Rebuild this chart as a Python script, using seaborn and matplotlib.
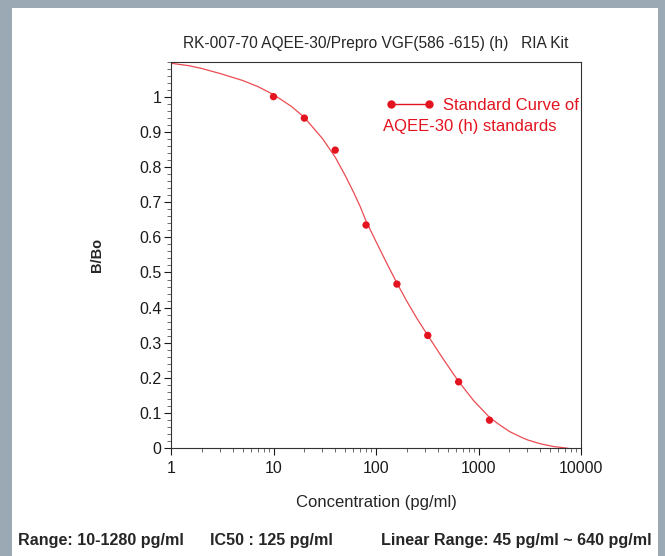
import numpy as np
import pandas as pd
import matplotlib
matplotlib.use("Agg")
import matplotlib.pyplot as plt
from matplotlib.lines import Line2D
from matplotlib.patches import Rectangle
from matplotlib.ticker import LogLocator, MultipleLocator, FixedLocator, FixedFormatter
import seaborn as sns

# standards (pg/ml) and B/Bo
conc = [10, 20, 40, 80, 160, 320, 640, 1280]
bbo = [1.0, 0.939, 0.848, 0.635, 0.467, 0.321, 0.189, 0.080]

# fitted curve
curve_conc = [1, 1.5, 2, 3, 5, 7, 10, 15, 20, 30, 40, 50, 60, 70, 80, 100, 130,
              160, 200, 250, 320, 450, 640, 900, 1280, 1600, 2000, 2500, 3000,
              4000, 5400, 7500]
curve_bbo = [1.095, 1.088, 1.080, 1.066, 1.046, 1.029, 1.006, 0.972, 0.941, 0.881,
             0.828, 0.776, 0.730, 0.688, 0.646, 0.588, 0.521, 0.470, 0.418, 0.370,
             0.321, 0.255, 0.190, 0.135, 0.088, 0.067, 0.048, 0.034, 0.024,
             0.013, 0.005, 0.0]

x_ticks = [1, 10, 100, 1000, 10000]
x_labels = ["1", "10", "100", "1000", "10000"]
y_ticks = [0, 0.1, 0.2, 0.3, 0.4, 0.5, 0.6, 0.7, 0.8, 0.9, 1]
y_labels = ["0", "0.1", "0.2", "0.3", "0.4", "0.5", "0.6", "0.7", "0.8", "0.9", "1"]

title = "RK-007-70 AQEE-30/Prepro VGF(586 -615) (h)   RIA Kit"
footer = ["Range: 10-1280 pg/ml", "IC50 : 125 pg/ml", "Linear Range: 45 pg/ml ~ 640 pg/ml"]

pts = pd.DataFrame({"conc": conc, "bbo": bbo})
fit = pd.DataFrame({"conc": curve_conc, "bbo": curve_bbo})

sns.set_style("ticks")
plt.rcParams["font.family"] = ["Liberation Sans", "DejaVu Sans"]

red_pt = "#e3141f"
red_ln = "#eb4b52"

fig = plt.figure(figsize=(6.65, 5.56), dpi=100)
fig.patch.set_facecolor("#9aa9b3")
fig.add_artist(Rectangle((12 / 665, 0), 646 / 665, 548 / 556, transform=fig.transFigure,
                         facecolor="white", edgecolor="none", zorder=0))

ax = fig.add_axes([171 / 665, (556 - 448.3) / 556, 410 / 665, 386.8 / 556])
sns.lineplot(data=fit, x="conc", y="bbo", ax=ax, color=red_ln, linewidth=0.9, zorder=2)
sns.scatterplot(data=pts, x="conc", y="bbo", ax=ax, color=red_pt, s=28,
                edgecolor="none", zorder=3)

ax.set_xscale("log")
ax.set_xlim(1, 10000)
ax.set_ylim(0, 1.1)
ax.xaxis.set_major_locator(FixedLocator(x_ticks))
ax.xaxis.set_major_formatter(FixedFormatter(x_labels))
ax.xaxis.set_minor_locator(LogLocator(base=10, subs=np.arange(2, 10)))
ax.yaxis.set_major_locator(FixedLocator(y_ticks))
ax.yaxis.set_major_formatter(FixedFormatter(y_labels))
ax.yaxis.set_minor_locator(MultipleLocator(0.02))

for s in ax.spines.values():
    s.set_visible(True)
    s.set_linewidth(0.8)
    s.set_color("#333333")
ax.tick_params(which="major", direction="out", length=5, width=0.8, labelsize=11.5,
               colors="#1a1a1a", pad=2)
ax.tick_params(which="minor", direction="out", length=3, width=0.6, colors="#555555")
ax.tick_params(axis="x", which="major", pad=4)

ax.set_xlabel("Concentration (pg/ml)", fontsize=12, labelpad=14)
ax.set_ylabel("B/Bo", fontsize=10.5, labelpad=25, fontweight="bold")
ax.set_title(title, fontsize=11.2, pad=10)

handle = Line2D([], [], color=red_pt, linewidth=1, marker="o", markersize=5)
leg = ax.legend([handle], ["Standard Curve of"], loc="upper left",
                bbox_to_anchor=(0.524, 0.905), frameon=False, numpoints=2,
                handlelength=2.9, handletextpad=0.55, fontsize=12, labelcolor=red_pt,
                borderaxespad=0, borderpad=0)
ax.text(0.517, 0.831, "AQEE-30 (h) standards", transform=ax.transAxes,
        color=red_pt, fontsize=12, ha="left", va="center")

fig.text(18 / 665, 15 / 556, footer[0], fontsize=11.6, fontweight="bold", ha="left", va="center")
fig.text(210 / 665, 15 / 556, footer[1], fontsize=11.6, fontweight="bold", ha="left", va="center")
fig.text(652 / 665, 15 / 556, footer[2], fontsize=11.6, fontweight="bold", ha="right", va="center")

fig.savefig("out.png", dpi=100, facecolor=fig.get_facecolor())
